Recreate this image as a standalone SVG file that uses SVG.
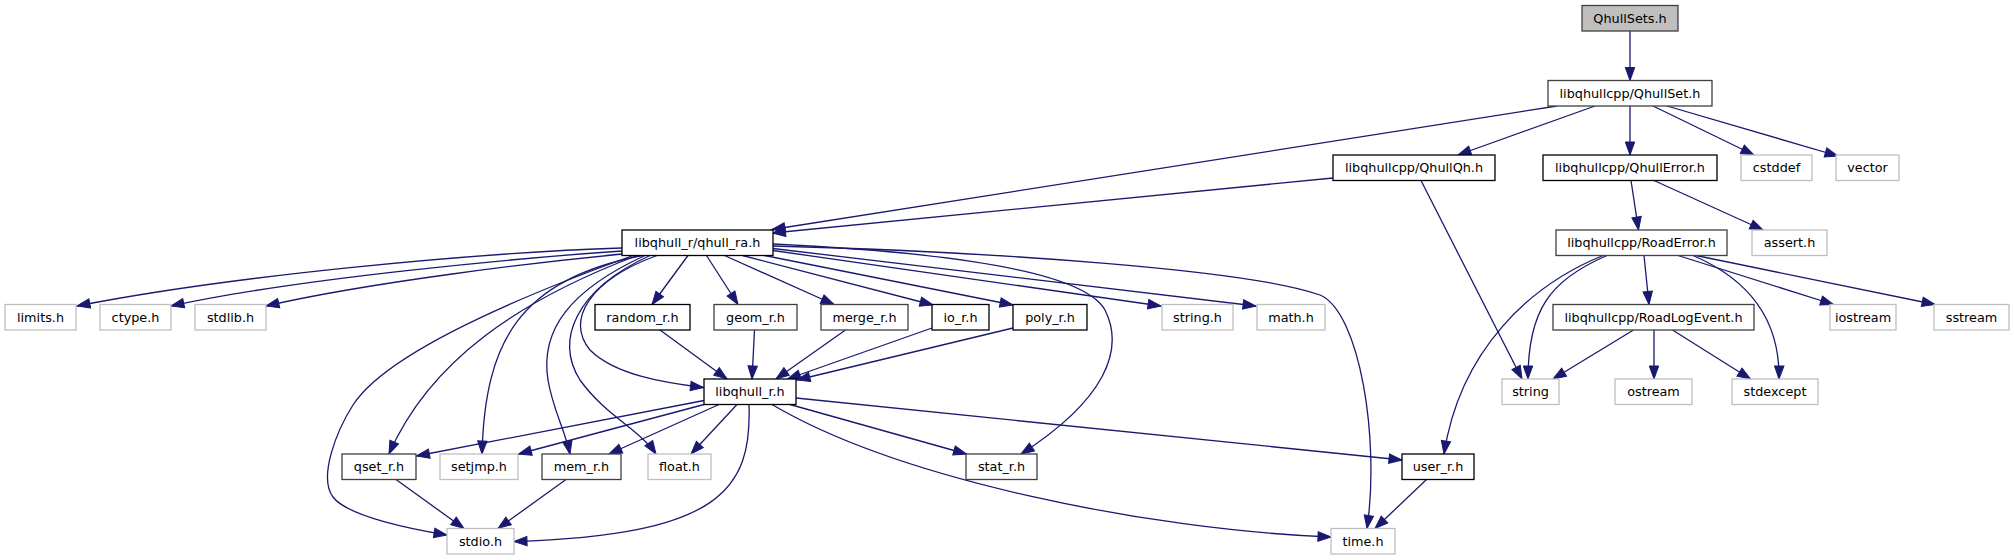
<svg xmlns="http://www.w3.org/2000/svg" width="2014" height="560" viewBox="0 0 2014 560">
<style>
.n rect{fill:#fff;stroke:#000;stroke-width:1.3}
.n.d rect{stroke:#404040}
.n.g rect{stroke:#bfbfbf}
.n.c rect{fill:#bfbfbf;stroke:#404040}
.n text{font-family:"DejaVu Sans",sans-serif;font-size:12.8px;text-anchor:middle;fill:#000}
.e path{fill:none;stroke:#191970;stroke-width:1.3;marker-end:url(#a)}
</style>
<defs>
<marker id="a" markerUnits="userSpaceOnUse" markerWidth="14" markerHeight="10" refX="13" refY="4.7" orient="auto" overflow="visible">
<path d="M0,0 L13,4.7 L0,9.4 z" fill="#191970" stroke="#191970" stroke-width="1"/>
</marker>
</defs>
<rect width="2014" height="560" fill="#fff"/>
<g id="edges" class="e">
<path d="M1630,31 L1630,80.5"/>
<path d="M1557,106 L772,229.5"/>
<path d="M1595,106 L1458,155"/>
<path d="M1630,106 L1630,155"/>
<path d="M1653,106 L1754,155"/>
<path d="M1667,106 L1838,156"/>
<path d="M1333,178 L772.5,233"/>
<path d="M1421,180.5 L1522,379"/>
<path d="M1631,180.5 L1638.5,230"/>
<path d="M1654,180.5 L1763,230"/>
<path d="M1644,255.5 L1649,304.5"/>
<path d="M1607,255.5 C1550,280 1528,310 1528,379"/>
<path d="M1603,255.5 C1530,285 1460,350 1444,454"/>
<path d="M1678,255.5 L1833.5,304.5"/>
<path d="M1696,255.5 L1935,304.5"/>
<path d="M1693,255.5 C1750,280 1780,320 1779,379"/>
<path d="M1633.5,330 L1553,379"/>
<path d="M1654,330 L1654,379"/>
<path d="M1672.5,330 L1750.5,379"/>
<path d="M622,248 C470,253 230,276 77,306"/>
<path d="M622,251 C520,258 300,278 171,306"/>
<path d="M622,254 C540,262 370,282 266,306"/>
<path d="M688,255.5 L652,304.5"/>
<path d="M706.5,255.5 L738,304.5"/>
<path d="M724.5,255.5 L834,304.5"/>
<path d="M742.5,255.5 L933,305"/>
<path d="M762,255 L1013,305"/>
<path d="M773,250.5 L1161,306"/>
<path d="M773,248.5 L1256,306"/>
<path d="M773,244 C900,250 1080,265 1105,310 C1125,350 1105,400 1021,454"/>
<path d="M773,246 C1000,252 1250,270 1320,295 C1360,312 1380,440 1367,528.5"/>
<path d="M657,255.5 C590,280 565,320 590,350 C615,375 665,383 703.5,387.5"/>
<path d="M633,255.5 C513,299 385,355 353,405 C337,430 318,477 333,497 C348,517 416,530 447,535"/>
<path d="M637,255.5 C520,300 430,360 389,454"/>
<path d="M642,255.5 C520,280 485,340 482,454"/>
<path d="M645,255.5 C570,290 540,330 548,380 C553,410 565,430 570,454"/>
<path d="M650,255.5 C575,290 555,340 580,380 C605,415 640,430 656,454"/>
<path d="M660,330 L727,379"/>
<path d="M754.5,330 L752,379"/>
<path d="M845.5,330 L776,379"/>
<path d="M932,328 L787.5,379"/>
<path d="M1013,328 L797,380"/>
<path d="M704,400.5 L416.5,456"/>
<path d="M704,404.5 L518.5,454"/>
<path d="M719,404.5 L609,454"/>
<path d="M737,404.5 L691,454"/>
<path d="M749,404.5 C752,490 720,535 514,541.5"/>
<path d="M790,404.5 L966.5,454"/>
<path d="M796,398 L1402,460"/>
<path d="M772,404.5 C900,480 1150,530 1331,537"/>
<path d="M396,479.5 L464,528.5"/>
<path d="M566,479.5 L498,528.5"/>
<path d="M1426.5,479.5 L1375,528.5"/>
</g>
<g id="QhullSets_h" class="n c"><rect x="1582" y="5.5" width="96" height="25.5"/><text x="1630" y="22.8">QhullSets.h</text></g>
<g id="QhullSet_h" class="n d"><rect x="1548" y="80.5" width="164" height="25.5"/><text x="1630" y="97.8">libqhullcpp/QhullSet.h</text></g>
<g id="QhullQh_h" class="n"><rect x="1333" y="155" width="162" height="25.5"/><text x="1414" y="172.3">libqhullcpp/QhullQh.h</text></g>
<g id="QhullError_h" class="n"><rect x="1543" y="155" width="174" height="25.5"/><text x="1630" y="172.3">libqhullcpp/QhullError.h</text></g>
<g id="cstddef" class="n g"><rect x="1741" y="155" width="71" height="25.5"/><text x="1776.5" y="172.3">cstddef</text></g>
<g id="vector" class="n g"><rect x="1836" y="155" width="63" height="25.5"/><text x="1867.5" y="172.3">vector</text></g>
<g id="qhull_ra_h" class="n"><rect x="622" y="230" width="151" height="25.5"/><text x="697.5" y="247.3">libqhull_r/qhull_ra.h</text></g>
<g id="RoadError_h" class="n d"><rect x="1556" y="230" width="171" height="25.5"/><text x="1641.5" y="247.3">libqhullcpp/RoadError.h</text></g>
<g id="assert_h" class="n g"><rect x="1752" y="230" width="75" height="25.5"/><text x="1789.5" y="247.3">assert.h</text></g>
<g id="limits_h" class="n g"><rect x="5" y="304.5" width="71" height="25.5"/><text x="40.5" y="321.8">limits.h</text></g>
<g id="ctype_h" class="n g"><rect x="100" y="304.5" width="71" height="25.5"/><text x="135.5" y="321.8">ctype.h</text></g>
<g id="stdlib_h" class="n g"><rect x="195" y="304.5" width="71" height="25.5"/><text x="230.5" y="321.8">stdlib.h</text></g>
<g id="random_r_h" class="n"><rect x="595" y="304.5" width="95" height="25.5"/><text x="642.5" y="321.8">random_r.h</text></g>
<g id="geom_r_h" class="n d"><rect x="714" y="304.5" width="83" height="25.5"/><text x="755.5" y="321.8">geom_r.h</text></g>
<g id="merge_r_h" class="n d"><rect x="821" y="304.5" width="87" height="25.5"/><text x="864.5" y="321.8">merge_r.h</text></g>
<g id="io_r_h" class="n"><rect x="932" y="304.5" width="57" height="25.5"/><text x="960.5" y="321.8">io_r.h</text></g>
<g id="poly_r_h" class="n"><rect x="1013" y="304.5" width="74" height="25.5"/><text x="1050" y="321.8">poly_r.h</text></g>
<g id="string_h" class="n g"><rect x="1162" y="304.5" width="71" height="25.5"/><text x="1197.5" y="321.8">string.h</text></g>
<g id="math_h" class="n g"><rect x="1257" y="304.5" width="68" height="25.5"/><text x="1291" y="321.8">math.h</text></g>
<g id="RoadLogEvent_h" class="n d"><rect x="1553" y="304.5" width="201" height="25.5"/><text x="1653.5" y="321.8">libqhullcpp/RoadLogEvent.h</text></g>
<g id="iostream" class="n g"><rect x="1830" y="304.5" width="66" height="25.5"/><text x="1863" y="321.8">iostream</text></g>
<g id="sstream" class="n g"><rect x="1934" y="304.5" width="75" height="25.5"/><text x="1971.5" y="321.8">sstream</text></g>
<g id="libqhull_r_h" class="n"><rect x="704" y="379" width="92" height="25.5"/><text x="750" y="396.3">libqhull_r.h</text></g>
<g id="string" class="n g"><rect x="1502" y="379" width="57" height="25.5"/><text x="1530.5" y="396.3">string</text></g>
<g id="ostream" class="n g"><rect x="1615" y="379" width="77" height="25.5"/><text x="1653.5" y="396.3">ostream</text></g>
<g id="stdexcept" class="n g"><rect x="1732" y="379" width="86" height="25.5"/><text x="1775" y="396.3">stdexcept</text></g>
<g id="qset_r_h" class="n d"><rect x="342" y="454" width="74" height="25.5"/><text x="379" y="471.3">qset_r.h</text></g>
<g id="setjmp_h" class="n g"><rect x="440" y="454" width="78" height="25.5"/><text x="479" y="471.3">setjmp.h</text></g>
<g id="mem_r_h" class="n d"><rect x="542" y="454" width="79" height="25.5"/><text x="581.5" y="471.3">mem_r.h</text></g>
<g id="float_h" class="n g"><rect x="648" y="454" width="63" height="25.5"/><text x="679.5" y="471.3">float.h</text></g>
<g id="stat_r_h" class="n d"><rect x="966" y="454" width="71" height="25.5"/><text x="1001.5" y="471.3">stat_r.h</text></g>
<g id="user_r_h" class="n"><rect x="1402" y="454" width="72" height="25.5"/><text x="1438" y="471.3">user_r.h</text></g>
<g id="stdio_h" class="n g"><rect x="447" y="528.5" width="67" height="25.5"/><text x="480.5" y="545.8">stdio.h</text></g>
<g id="time_h" class="n g"><rect x="1331" y="528.5" width="64" height="25.5"/><text x="1363" y="545.8">time.h</text></g>
</svg>
